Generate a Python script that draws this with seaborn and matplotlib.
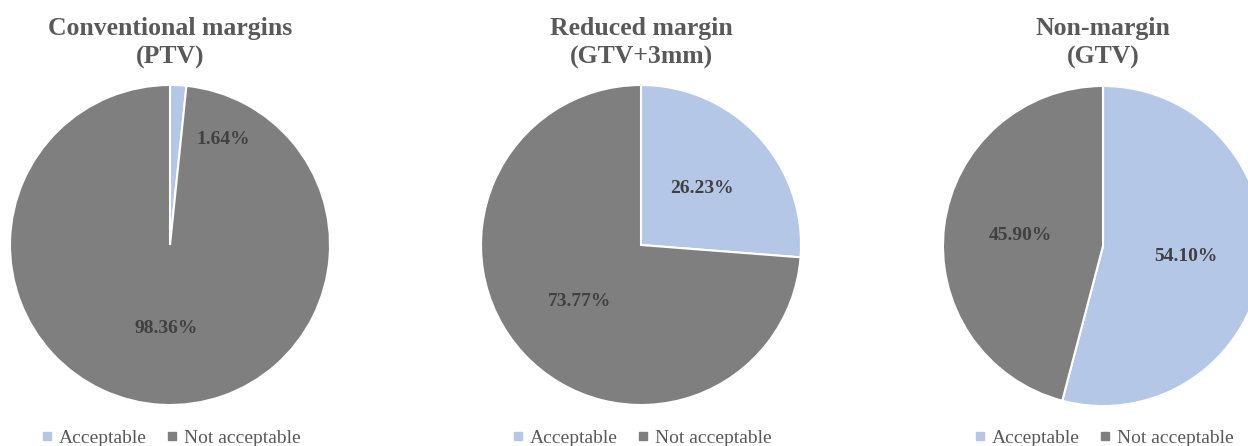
import matplotlib
matplotlib.use("Agg")
import matplotlib.pyplot as plt
from matplotlib.lines import Line2D
import seaborn as sns

# data
titles = ["Conventional margins\n(PTV)", "Reduced margin\n(GTV+3mm)", "Non-margin\n(GTV)"]
categories = ["Acceptable", "Not acceptable"]
acceptable = [1.64, 26.23, 54.10]
not_acceptable = [98.36, 73.77, 45.90]

colors = ["#B4C7E7", "#7F7F7F"]

sns.set_theme(style="white")
plt.rcParams["font.family"] = ["Liberation Serif", "DejaVu Serif"]

W, H = 1248, 446
fig = plt.figure(figsize=(W / 100, H / 100), dpi=100)

centers = [(170, 245), (641, 245), (1103, 246)]  # pixel centres of the pies
r = 160
pad = 1.03

for i, (cx, cy) in enumerate(centers):
    ra = r * pad
    ax = fig.add_axes([(cx - ra) / W, (H - cy - ra) / H, 2 * ra / W, 2 * ra / H])
    vals = [acceptable[i], not_acceptable[i]]
    wedges, texts, autotexts = ax.pie(
        vals, colors=colors, startangle=90, counterclock=False,
        autopct="%.2f%%", pctdistance=0.52,
        wedgeprops=dict(edgecolor="white", linewidth=1.5),
        textprops=dict(fontsize=14, fontweight="bold", color="#404040"))
    ax.set_xlim(-pad, pad)
    ax.set_ylim(-pad, pad)
    ax.set_aspect("equal")
    ax.axis("off")
    if vals[0] < 5:
        # tiny slice: label pushed out like Excel does
        autotexts[0].set_position((0.33, 0.66))

    fig.text(cx / W, 1 - 43 / H, titles[i], ha="center", va="center",
             fontsize=18.5, fontweight="bold", color="#595959", linespacing=1.3)

    handles = [Line2D([], [], marker="s", linestyle="none", markersize=6,
                      markerfacecolor=c, markeredgecolor=c) for c in colors]
    ax.legend(handles, categories, loc="center", ncol=2, frameon=False,
              bbox_to_anchor=(cx / W, 1 - 438 / H), bbox_transform=fig.transFigure,
              fontsize=14, labelcolor="#595959", handletextpad=0.2,
              columnspacing=0.9, handlelength=0.8)

fig.savefig("out.png", dpi=100)
